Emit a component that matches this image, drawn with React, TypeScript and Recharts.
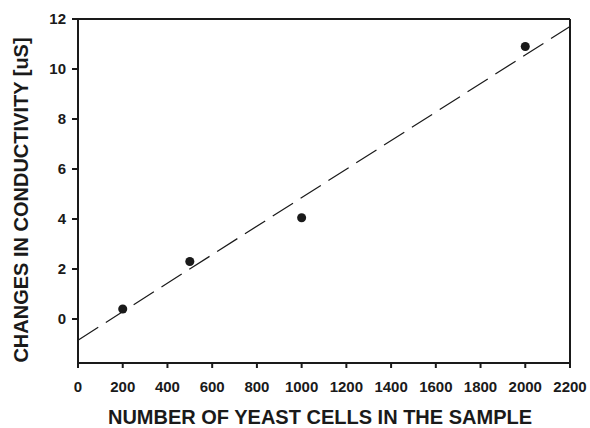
import {
  Label,
  ReferenceLine,
  Scatter,
  ScatterChart,
  XAxis,
  YAxis,
} from "recharts";

const cellCounts = [200, 500, 1000, 2000];
const conductivity = [0.4, 2.3, 4.05, 10.9];
const fitX = [0, 2200];
const fitY = [-0.85, 11.7];
const xTicks = [0, 200, 400, 600, 800, 1000, 1200, 1400, 1600, 1800, 2000, 2200];
const yTicks = [0, 2, 4, 6, 8, 10, 12];

const points = cellCounts.map((x, i) => ({ x, y: conductivity[i] }));

const font = "'Liberation Sans', Arial, Helvetica, sans-serif";
const ink = "#1a1a1a";

// axis titles sit a bit off the plot centre in the scan, so place them by hand
const XTitle = ({ viewBox }: any) => (
  <text
    x={viewBox.x + viewBox.width / 2 - 4}
    y={viewBox.y + viewBox.height - 4}
    textAnchor="middle"
    fill={ink}
    fontSize={20}
    fontWeight="bold"
  >
    NUMBER OF YEAST CELLS IN THE SAMPLE
  </text>
);

const YTitle = ({ viewBox }: any) => {
  const x = viewBox.x + 21;
  const y = viewBox.y + viewBox.height / 2 + 9;
  return (
    <text
      x={x}
      y={y}
      transform={`rotate(-90 ${x} ${y})`}
      textAnchor="middle"
      dominantBaseline="central"
      fill={ink}
      fontSize={20}
      fontWeight="bold"
    >
      CHANGES IN CONDUCTIVITY [uS]
    </text>
  );
};

export default function App() {
  return (
    <div style={{ position: "absolute", left: 0, top: 0, background: "#fff" }}>
      <ScatterChart
        width={590}
        height={428}
        margin={{ top: 19, right: 20, bottom: 0, left: 0 }}
        style={{ fontFamily: font }}
      >
        <XAxis
          type="number"
          dataKey="x"
          domain={[0, 2200]}
          ticks={xTicks}
          interval={0}
          height={65}
          stroke={ink}
          strokeWidth={2}
          tickSize={5}
          tickMargin={13}
          tick={{ fill: ink, fontSize: 15, fontWeight: "bold" }}
        >
          <Label content={XTitle} />
        </XAxis>
        <YAxis
          type="number"
          dataKey="y"
          domain={[-1.76, 12]}
          ticks={yTicks}
          interval={0}
          width={78}
          stroke={ink}
          strokeWidth={2}
          tickSize={6}
          tickMargin={6}
          tick={{ fill: ink, fontSize: 15, fontWeight: "bold" }}
        >
          <Label content={YTitle} />
        </YAxis>
        <ReferenceLine y={12} stroke={ink} strokeWidth={2} />
        <ReferenceLine x={2200} stroke={ink} strokeWidth={2} />
        <ReferenceLine
          segment={[
            { x: fitX[0], y: fitY[0] },
            { x: fitX[1], y: fitY[1] },
          ]}
          stroke={ink}
          strokeWidth={1.2}
          strokeDasharray="24 9"
        />
        <Scatter data={points} fill={ink} isAnimationActive={false} shape="circle" />
      </ScatterChart>
    </div>
  );
}
